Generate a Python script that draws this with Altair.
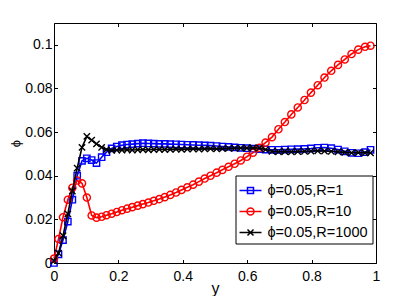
import altair as alt
import pandas as pd

# ---- data ----
x_grid = [0.000, 0.014, 0.028, 0.043, 0.057, 0.072, 0.087, 0.102, 0.117, 0.132,
          0.148, 0.163, 0.179, 0.195, 0.211, 0.227, 0.243, 0.260, 0.276, 0.293,
          0.310, 0.327, 0.344, 0.361, 0.379, 0.396, 0.414, 0.432, 0.450, 0.468,
          0.486, 0.505, 0.523, 0.542, 0.561, 0.580, 0.599, 0.618, 0.638, 0.657,
          0.677, 0.697, 0.717, 0.737, 0.757, 0.778, 0.798, 0.819, 0.840, 0.861,
          0.882, 0.903, 0.924, 0.945, 0.966, 0.983]

phi_R1 = [0.0000, 0.0040, 0.0105, 0.0190, 0.0290, 0.0400, 0.0468, 0.0480, 0.0472, 0.0458,
          0.0485, 0.0508, 0.0525, 0.0534, 0.0540, 0.0543, 0.0545, 0.0547, 0.0549, 0.0548,
          0.0547, 0.0546, 0.0546, 0.0545, 0.0544, 0.0543, 0.0542, 0.0541, 0.0540, 0.0539,
          0.0538, 0.0536, 0.0534, 0.0532, 0.0530, 0.0528, 0.0526, 0.0524, 0.0522, 0.0520,
          0.0519, 0.0519, 0.0520, 0.0521, 0.0522, 0.0523, 0.0525, 0.0528, 0.0529, 0.0526,
          0.0520, 0.0512, 0.0505, 0.0503, 0.0508, 0.0519]

phi_R10 = [0.0020, 0.0110, 0.0210, 0.0290, 0.0345, 0.0378, 0.0365, 0.0300, 0.0218, 0.0208,
           0.0212, 0.0219, 0.0226, 0.0234, 0.0242, 0.0249, 0.0256, 0.0263, 0.0270, 0.0277,
           0.0285, 0.0293, 0.0302, 0.0312, 0.0323, 0.0335, 0.0347, 0.0359, 0.0373, 0.0387,
           0.0400, 0.0414, 0.0427, 0.0441, 0.0455, 0.0470, 0.0487, 0.0506, 0.0528, 0.0552,
           0.0577, 0.0613, 0.0646, 0.0681, 0.0713, 0.0747, 0.0781, 0.0815, 0.0850, 0.0881,
           0.0908, 0.0933, 0.0958, 0.0978, 0.0991, 0.0996]

phi_R1000 = [0.0010, 0.0045, 0.0125, 0.0225, 0.0330, 0.0435, 0.0530, 0.0580, 0.0563, 0.0546,
             0.0530, 0.0520, 0.0516, 0.0517, 0.0518, 0.0519, 0.0518, 0.0519, 0.0520, 0.0519,
             0.0520, 0.0521, 0.0520, 0.0521, 0.0522, 0.0521, 0.0522, 0.0523, 0.0522, 0.0523,
             0.0524, 0.0523, 0.0524, 0.0525, 0.0526, 0.0527, 0.0527, 0.0528, 0.0527, 0.0520,
             0.0512, 0.0510, 0.0511, 0.0510, 0.0511, 0.0512, 0.0513, 0.0514, 0.0513, 0.0512,
             0.0510, 0.0507, 0.0505, 0.0506, 0.0505, 0.0505]

series_names = ["ϕ=0.05,R=1", "ϕ=0.05,R=10", "ϕ=0.05,R=1000"]
series_colors = ["#0000ff", "#ff0000", "#000000"]
x_ticks = [0, 0.2, 0.4, 0.6, 0.8, 1]
y_ticks = [0, 0.02, 0.04, 0.06, 0.08, 0.1]

rows = []
for name, vals in zip(series_names, [phi_R1, phi_R10, phi_R1000]):
    for xv, yv in zip(x_grid, vals):
        rows.append({"ypos": xv, "phi": yv, "series": name})
df = pd.DataFrame(rows)

W, H = 322, 240
FONT = "Liberation Sans"

xs = alt.Scale(domain=[0, 1], nice=False)
ys = alt.Scale(domain=[0, 0.11], nice=False)

# label axes (no ticks)
ax_bottom = alt.Axis(values=x_ticks, format="~g", ticks=False, domain=False, grid=False,
                     labelPadding=6, labelFontSize=14, labelFont=FONT, labelColor="black",
                     title="y", titleFontSize=16, titleFont=FONT, titleFontWeight="normal",
                     titleColor="black", titleX=161, titleY=30, titleBaseline="alphabetic",
                     titleAlign="center", labelFlush=False)
ax_left = alt.Axis(values=y_ticks, format="~g", ticks=False, domain=False, grid=False,
                   labelPadding=2, labelFontSize=14, labelFont=FONT, labelColor="black",
                   title="ϕ", titleFontSize=13, titleFont=FONT, titleFontWeight="normal",
                   titleColor="black", titleAngle=-90, titleX=-38.5, titleY=120,
                   titleBaseline="middle", titleAlign="center", labelFlush=False)


def tick_axis(orient, offset, vals):
    return alt.Axis(orient=orient, offset=offset, values=vals, labels=False, domain=False,
                    grid=False, ticks=True, tickSize=3.5, tickColor="black", tickWidth=1,
                    title=None)


markers = {
    series_names[0]: dict(shape="square", size=40),
    series_names[1]: dict(shape="circle", size=52),
    series_names[2]: dict(shape="M-1,-1L1,1M-1,1L1,-1", size=40),
}

layers = []
for i, (name, col) in enumerate(zip(series_names, series_colors)):
    base = alt.Chart(df).transform_filter(alt.datum.series == name)
    if i == 0:
        lx, ly = ax_bottom, ax_left
        px, py = tick_axis("top", -H, x_ticks), tick_axis("right", -W, y_ticks)
    elif i == 1:
        lx, ly = tick_axis("bottom", -H, x_ticks), tick_axis("left", -W, y_ticks)
        px, py = None, None
    else:
        lx, ly, px, py = None, None, None, None
    line = base.mark_line(color=col, strokeWidth=1.6).encode(
        x=alt.X("ypos:Q", scale=xs, axis=lx),
        y=alt.Y("phi:Q", scale=ys, axis=ly),
    )
    pts = base.mark_point(color=col, filled=False, strokeWidth=1.4,
                          shape=markers[name]["shape"], size=markers[name]["size"],
                          opacity=1).encode(
        x=alt.X("ypos:Q", scale=xs, axis=px),
        y=alt.Y("phi:Q", scale=ys, axis=py),
    )
    layers += [line, pts]

legend_paths = [
    "M-1.1,0H1.1M-0.3,-0.3H0.3V0.3H-0.3Z",
    "M-1.1,0H1.1M0.35,0A0.35,0.35,0,1,1,-0.35,0A0.35,0.35,0,1,1,0.35,0",
    "M-1.1,0H1.1M-0.3,-0.3L0.3,0.3M-0.3,0.3L0.3,-0.3",
]

leg = alt.Legend(orient="none", legendX=181.5, legendY=152.5, title=None,
                 strokeColor="black", fillColor="white", padding=4, rowPadding=3,
                 symbolSize=400, symbolStrokeWidth=1.5, symbolOpacity=1,
                 labelFontSize=14.5, labelFont=FONT, labelColor="black", labelOffset=6,
                 labelLimit=300, cornerRadius=0)

legend_layer = alt.Chart(df).mark_point(filled=False, opacity=0).encode(
    x=alt.X("ypos:Q", scale=xs, axis=None),
    y=alt.Y("phi:Q", scale=ys, axis=None),
    color=alt.Color("series:N", scale=alt.Scale(domain=series_names, range=series_colors),
                    legend=leg),
    shape=alt.Shape("series:N", scale=alt.Scale(domain=series_names, range=legend_paths),
                    legend=leg),
)

chart = alt.layer(*layers, legend_layer).resolve_axis(
    x="independent", y="independent"
).properties(
    width=W, height=H,
    padding={"left": 46, "top": 15, "right": 25, "bottom": 33},
    autosize=alt.AutoSizeParams(type="none"),
    background="white",
).configure_view(stroke="black", strokeWidth=1)

chart.save("out.html", embed_options={"renderer": "svg", "actions": False})
